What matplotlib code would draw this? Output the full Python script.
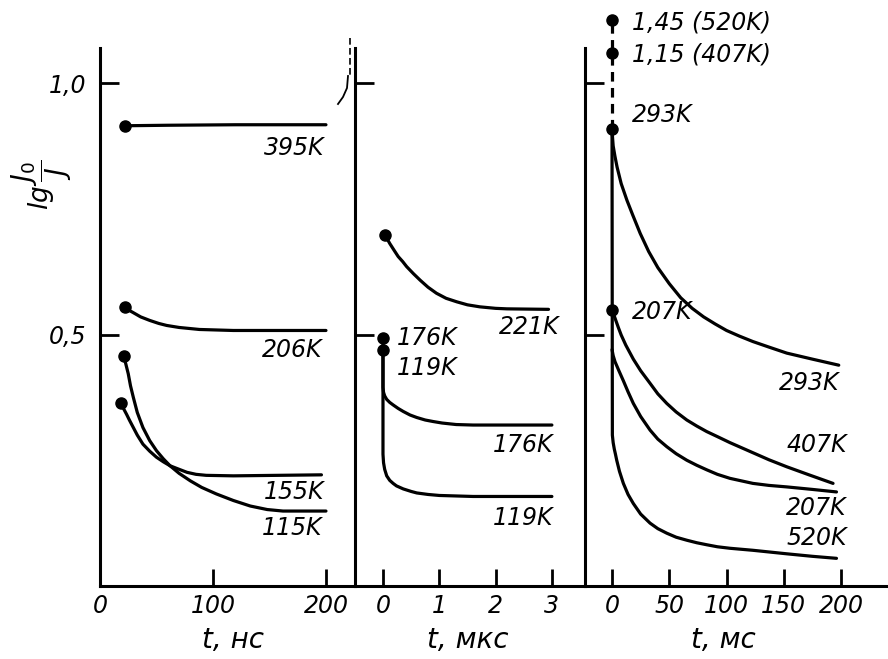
import matplotlib
matplotlib.use("Agg")
import matplotlib.pyplot as plt
from matplotlib.lines import Line2D

plt.rcParams['font.family'] = ['DejaVu Sans']
plt.rcParams['mathtext.fontset'] = 'dejavusans'

# ---------------- panel 1 : t, ns ----------------
ns_ticks = [0, 100, 200]
ns_ticklabels = ["0", "100", "200"]
ns_395_t = [22, 60, 120, 200]
ns_395_v = [0.915, 0.916, 0.917, 0.917]
ns_206_t = [22, 25, 29, 36, 44, 52, 59, 70, 88, 118, 200]
ns_206_v = [0.554, 0.549, 0.544, 0.535, 0.528, 0.522, 0.518, 0.514, 0.510, 0.508, 0.508]
ns_155_t = [19, 21, 23.6, 26, 29.5, 33, 38, 44, 50, 56, 62, 70, 77, 85, 94, 118, 196]
ns_155_v = [0.363, 0.352, 0.341, 0.330, 0.315, 0.300, 0.282, 0.268, 0.256, 0.247,
            0.239, 0.232, 0.226, 0.222, 0.220, 0.219, 0.221]
ns_115_t = [21, 23, 25, 27, 29.5, 33, 38, 44, 50, 56, 62, 70, 80, 90, 103, 118, 133, 148, 162, 200]
ns_115_v = [0.458, 0.440, 0.422, 0.398, 0.375, 0.345, 0.315, 0.289, 0.269, 0.253,
            0.239, 0.224, 0.209, 0.196, 0.183, 0.170, 0.159, 0.152, 0.149, 0.149]

# ---------------- panel 2 : t, us ----------------
us_ticks = [0, 1, 2, 3]
us_ticklabels = ["0", "1", "2", "3"]
us_221_t = [0.04, 0.08, 0.12, 0.2, 0.27, 0.35, 0.42, 0.54, 0.66, 0.8, 0.95, 1.12,
            1.31, 1.5, 1.72, 2.0, 2.2, 2.94]
us_221_v = [0.697, 0.689, 0.681, 0.667, 0.655, 0.645, 0.635, 0.621, 0.608, 0.594,
            0.582, 0.572, 0.565, 0.559, 0.555, 0.552, 0.551, 0.550]
us_176_t = [0, 0, 0.01, 0.03, 0.066, 0.12, 0.18, 0.27, 0.36, 0.48, 0.6, 0.75, 0.89,
            1.05, 1.3, 1.6, 3.0]
us_176_v = [0.493, 0.395, 0.385, 0.378, 0.371, 0.365, 0.360, 0.353, 0.347, 0.340,
            0.335, 0.330, 0.327, 0.324, 0.321, 0.320, 0.320]
us_119_t = [0, 0, 0.01, 0.03, 0.066, 0.12, 0.18, 0.24, 0.36, 0.5, 0.6, 0.8, 1.0, 1.3, 1.6, 3.0]
us_119_v = [0.469, 0.262, 0.245, 0.232, 0.219, 0.210, 0.204, 0.199, 0.193, 0.188,
            0.185, 0.182, 0.180, 0.179, 0.178, 0.178]

# ---------------- panel 3 : t, ms ----------------
ms_ticks = [0, 50, 100, 150, 200]
ms_ticklabels = ["0", "50", "100", "150", "200"]
ms_293_t = [0, 0.5, 1, 2.5, 4.4, 8, 13, 18, 24.6, 32, 40, 50, 60, 70, 80, 90, 100,
            111, 123, 137, 152.6, 175, 198]
ms_293_v = [0.909, 0.890, 0.875, 0.855, 0.833, 0.800, 0.767, 0.738, 0.701, 0.665,
            0.633, 0.601, 0.573, 0.552, 0.535, 0.521, 0.508, 0.497, 0.486, 0.475,
            0.463, 0.451, 0.439]
ms_407_t = [0, 1.5, 3, 5.5, 8, 12, 18.6, 25, 33.2, 40, 47.8, 56, 65.3, 74, 82.7, 92,
            103, 113, 123, 137, 152.6, 172, 193]
ms_407_v = [0.549, 0.540, 0.530, 0.514, 0.499, 0.479, 0.451, 0.428, 0.403, 0.382,
            0.363, 0.346, 0.330, 0.318, 0.307, 0.297, 0.285, 0.275, 0.265, 0.251,
            0.237, 0.221, 0.204]
ms_207_t = [0, 1, 2.6, 6, 9.9, 14, 18.6, 25, 33.2, 40, 47.8, 56, 65.3, 74, 82.7, 92,
            103, 113, 123, 137, 152.6, 175, 196]
ms_207_v = [0.470, 0.458, 0.446, 0.428, 0.408, 0.386, 0.363, 0.337, 0.310, 0.292,
            0.277, 0.263, 0.250, 0.240, 0.231, 0.222, 0.214, 0.209, 0.204, 0.200,
            0.197, 0.192, 0.187]
ms_520_t = [0, 0.3, 1, 2, 3, 4.1, 6.5, 9.9, 14, 18.6, 25, 33.2, 40, 47.8, 56, 65.3,
            74, 82.7, 92, 103, 123, 152.6, 175, 196]
ms_520_v = [0.909, 0.300, 0.285, 0.272, 0.262, 0.250, 0.228, 0.204, 0.182, 0.164,
            0.143, 0.125, 0.114, 0.105, 0.097, 0.091, 0.086, 0.082, 0.078, 0.075,
            0.071, 0.064, 0.059, 0.055]
# initial values at t = 0 (two upper ones drawn on a broken scale)
ms_start_v = [1.125, 1.060, 0.909, 0.549]
ms_start_labels = ["1,45 (520K)", "1,15 (407K)", "293K", "207K"]

y_ticks = [0.5, 1.0]
y_ticklabels = ["0,5", "1,0"]

W, H = 888, 659
fig = plt.figure(figsize=(W / 100, H / 100), dpi=100)

y0_px, y1_px = 586, 83          # pixel rows of 0 and 1.0
unit = y0_px - y1_px
top_px = 48
bottom = (H - y0_px) / H
height = (y0_px - top_px) / H
ylim = (0, (y0_px - top_px) / unit)

ax1 = fig.add_axes([100 / W, bottom, 255 / W, height])
ax2 = fig.add_axes([355 / W, bottom, 230 / W, height])
ax3 = fig.add_axes([585 / W, bottom, 303 / W, height])
ax1.set_xlim(0, 225.7)
ax2.set_xlim(-0.497, 3.588)
ax3.set_xlim(-23.6, 241)

LW = 2.3
TXT = dict(fontsize=17, fontstyle='italic', color='black')

for ax, ticks, labels in ((ax1, ns_ticks, ns_ticklabels),
                          (ax2, us_ticks, us_ticklabels),
                          (ax3, ms_ticks, ms_ticklabels)):
    ax.set_ylim(*ylim)
    for s in ('top', 'right'):
        ax.spines[s].set_visible(False)
    for s in ('left', 'bottom'):
        ax.spines[s].set_linewidth(2.2)
    ax.set_xticks(ticks)
    ax.set_xticklabels(labels, fontsize=17, fontstyle='italic')
    ax.set_yticks(y_ticks)
    ax.tick_params(axis='x', direction='in', length=12, width=2, pad=6)
    ax.tick_params(axis='y', direction='in', length=14, width=2, pad=10)
    if ax is ax1:
        ax.set_yticklabels(y_ticklabels, fontsize=17, fontstyle='italic')
    else:
        ax.set_yticklabels([])
    ax.patch.set_alpha(0)

def curve(ax, t, v, marker=True):
    ax.plot(t, v, color='black', lw=LW, solid_capstyle='round',
            solid_joinstyle='round', clip_on=False)
    if marker:
        ax.plot([t[0]], [v[0]], 'o', color='black', ms=8, clip_on=False)

# panel 1
curve(ax1, ns_395_t, ns_395_v)
curve(ax1, ns_206_t, ns_206_v)
curve(ax1, ns_155_t, ns_155_v)
curve(ax1, ns_115_t, ns_115_v)
ax1.text(199, 0.871, "395K", ha='right', va='center', **TXT)
ax1.text(197, 0.469, "206K", ha='right', va='center', **TXT)
ax1.text(199, 0.187, "155K", ha='right', va='center', **TXT)
ax1.text(197, 0.115, "115K", ha='right', va='center', **TXT)

# panel 2
curve(ax2, us_221_t, us_221_v)
curve(ax2, us_176_t, us_176_v)
curve(ax2, us_119_t, us_119_v)
ax2.text(3.14, 0.515, "221K", ha='right', va='center', **TXT)
ax2.text(0.25, 0.493, "176K", ha='left', va='center', **TXT)
ax2.text(0.25, 0.433, "119K", ha='left', va='center', **TXT)
ax2.text(3.02, 0.280, "176K", ha='right', va='center', **TXT)
ax2.text(3.02, 0.135, "119K", ha='right', va='center', **TXT)

# panel 3
curve(ax3, ms_293_t, ms_293_v, marker=False)
curve(ax3, ms_407_t, ms_407_v, marker=False)
curve(ax3, ms_207_t, ms_207_v, marker=False)
curve(ax3, ms_520_t, ms_520_v, marker=False)
ax3.plot([0, 0], [ms_start_v[2], ms_start_v[0]], color='black', lw=LW,
         ls=(0, (3, 2)), clip_on=False)
ax3.plot([0] * len(ms_start_v), ms_start_v, 'o', color='black', ms=8, clip_on=False)
lab_v = [1.121, 1.056, 0.936, 0.545]
for lbl, yv in zip(ms_start_labels, lab_v):
    ax3.text(17.5, yv, lbl, ha='left', va='center', **TXT)
ax3.text(199, 0.404, "293K", ha='right', va='center', **TXT)
ax3.text(205, 0.280, "407K", ha='right', va='center', **TXT)
ax3.text(205, 0.155, "207K", ha='right', va='center', **TXT)
ax3.text(205, 0.095, "520K", ha='right', va='center', **TXT)

# axis titles
fig.text(233 / W, 1 - 640 / H, "t, нс", ha='center', va='center', fontsize=20, fontstyle='italic')
fig.text(468 / W, 1 - 640 / H, "t, мкс", ha='center', va='center', fontsize=20, fontstyle='italic')
fig.text(723 / W, 1 - 640 / H, "t, мс", ha='center', va='center', fontsize=20, fontstyle='italic')
fig.text(42 / W, 1 - 185 / H, r'$lg\,\dfrac{J_0}{J}$', rotation=90,
         ha='center', va='center', fontsize=19)

# break mark at the top of the middle panel
def px(x, y):
    return x / W, 1 - y / H
bx, by = zip(px(350, 38), px(350, 75))
fig.add_artist(Line2D(bx, by, color='black', lw=1.2, ls=(0, (4, 2))))
cx, cy = zip(px(348, 76), px(347, 88), px(343, 97), px(338, 104))
fig.add_artist(Line2D(cx, cy, color='black', lw=1.3))

fig.savefig("out.png", dpi=100)
